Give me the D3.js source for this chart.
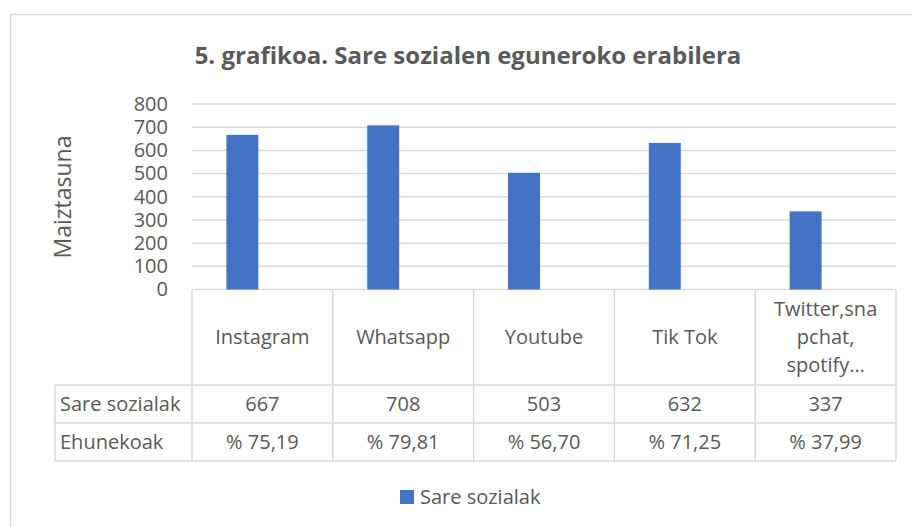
<!DOCTYPE html>
<html>
<head>
<meta charset="utf-8">
<script src="https://cdn.jsdelivr.net/npm/d3@7"></script>
<style>
  html, body { margin: 0; padding: 0; background: #fff; }
  svg { display: block; font-family: "Open Sans", sans-serif; }
</style>
</head>
<body>
<script>
// ---- data ----
const categories = ["Instagram", "Whatsapp", "Youtube", "Tik Tok", "Twitter,snapchat, spotify…"];
const categoryLines = [["Instagram"], ["Whatsapp"], ["Youtube"], ["Tik Tok"], ["Twitter,sna", "pchat,", "spotify…"]];
const values = [667, 708, 503, 632, 337];
const percentages = ["% 75,19", "% 79,81", "% 56,70", "% 71,25", "% 37,99"];
const yTicks = [0, 100, 200, 300, 400, 500, 600, 700, 800];
const seriesName = "Sare sozialak";
const rowLabels = ["Sare sozialak", "Ehunekoak"];
const title = "5. grafikoa. Sare sozialen eguneroko erabilera";
const yTitle = "Maiztasuna";

const W = 912, H = 527;
const textColor = "#595959", gridColor = "#d9d9d9", barColor = "#4472C4";

const svg = d3.select("body").append("svg").attr("width", W).attr("height", H);

// chart frame
svg.append("rect").attr("x", 10.5).attr("y", 14.5).attr("width", 1000).attr("height", 700)
  .attr("fill", "#fff").attr("stroke", gridColor).attr("stroke-width", 1.5);

// title
svg.append("text").attr("x", 468).attr("y", 64).attr("text-anchor", "middle")
  .attr("font-size", 24).attr("font-weight", "bold").attr("fill", textColor).text(title);

// scales
const plotLeft = 192, plotRight = 896, plotTop = 104, plotBottom = 289.5;
const y = d3.scaleLinear().domain([0, 800]).range([plotBottom, plotTop]);
const xCol = d3.scaleBand().domain(categories).range([plotLeft, plotRight]);
const xBar = d3.scaleBand().domain(categories).range([plotLeft - 20, plotRight - 20])
  .paddingInner(0.773).paddingOuter(0.3865);

// gridlines
svg.append("g").selectAll("line").data(yTicks).join("line")
  .attr("x1", plotLeft).attr("x2", plotRight)
  .attr("y1", d => y(d)).attr("y2", d => y(d))
  .attr("stroke", gridColor).attr("stroke-width", 1.5);

// y axis labels
const yAxis = d3.axisLeft(y).tickValues(yTicks).tickSize(0).tickPadding(0);
const gy = svg.append("g").attr("transform", `translate(168,0)`).call(yAxis);
gy.select(".domain").remove();
gy.selectAll("text").attr("font-size", 20).attr("fill", textColor).attr("font-family", "Open Sans, sans-serif");

// y title
svg.append("text").attr("transform", `translate(71,197) rotate(-90)`).attr("text-anchor", "middle")
  .attr("font-size", 23).attr("fill", textColor).text(yTitle);

// bars
svg.append("g").selectAll("rect").data(values).join("rect")
  .attr("x", (d, i) => xBar(categories[i]))
  .attr("width", xBar.bandwidth())
  .attr("y", d => y(d))
  .attr("height", d => y(0) - y(d))
  .attr("fill", barColor);

// data table
const tableLeft = 55, rowTop = [plotBottom, 385, 423], tableBottom = 461;
const tg = svg.append("g");
[rowTop[1], rowTop[2], tableBottom].forEach(yy => {
  tg.append("line").attr("x1", tableLeft).attr("x2", plotRight).attr("y1", yy).attr("y2", yy)
    .attr("stroke", gridColor).attr("stroke-width", 1.5);
});
const colEdges = categories.map(c => xCol(c)).concat([plotRight]);
tg.selectAll("line.v").data(colEdges).join("line").attr("class", "v")
  .attr("x1", d => d).attr("x2", d => d).attr("y1", plotBottom).attr("y2", tableBottom)
  .attr("stroke", gridColor).attr("stroke-width", 1.5);
tg.append("line").attr("x1", tableLeft).attr("x2", tableLeft).attr("y1", rowTop[1]).attr("y2", tableBottom)
  .attr("stroke", gridColor).attr("stroke-width", 1.5);

// header texts
const lineH = 28;
categories.forEach((c, i) => {
  const lines = categoryLines[i];
  const cx = xCol(c) + xCol.bandwidth() / 2;
  const baseY = 344 - (lines.length - 1) * lineH / 2;
  const t = tg.append("text").attr("text-anchor", "middle").attr("font-size", 20).attr("fill", textColor);
  lines.forEach((ln, j) => {
    t.append("tspan").attr("x", cx).attr("y", baseY + j * lineH).text(ln);
  });
});
// row labels
rowLabels.forEach((r, i) => {
  tg.append("text").attr("x", 60).attr("y", [411, 449][i]).attr("font-size", 20).attr("fill", textColor).text(r);
});
// values
tg.selectAll("text.val").data(values).join("text").attr("class", "val")
  .attr("x", (d, i) => xCol(categories[i]) + xCol.bandwidth() / 2).attr("y", 411)
  .attr("text-anchor", "middle").attr("font-size", 20).attr("fill", textColor).text(d => d);
tg.selectAll("text.pct").data(percentages).join("text").attr("class", "pct")
  .attr("x", (d, i) => xCol(categories[i]) + xCol.bandwidth() / 2).attr("y", 449)
  .attr("text-anchor", "middle").attr("font-size", 20).attr("fill", textColor).text(d => d);

// legend
const lg = svg.append("g");
lg.append("rect").attr("x", 400).attr("y", 490).attr("width", 14).attr("height", 14).attr("fill", barColor);
lg.append("text").attr("x", 420).attr("y", 504).attr("font-size", 20).attr("fill", textColor).text(seriesName);
</script>
</body>
</html>
